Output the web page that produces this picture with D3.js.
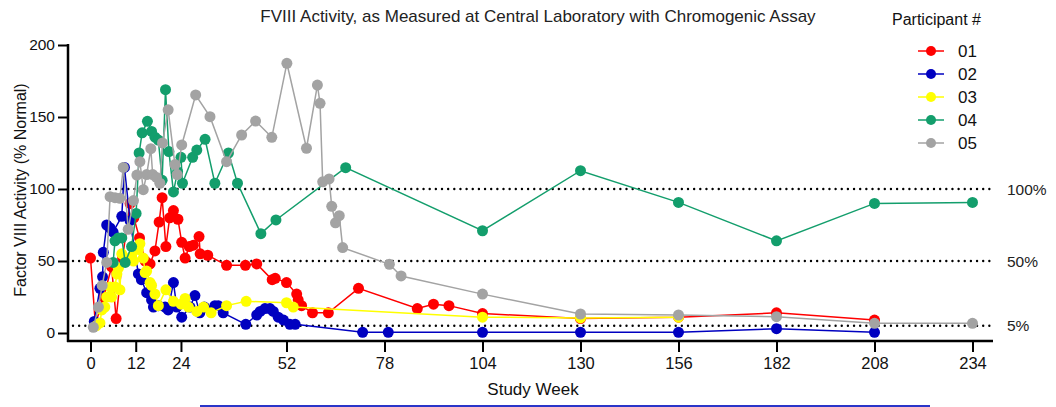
<!DOCTYPE html>
<html>
<head>
<meta charset="utf-8">
<script src="https://cdn.jsdelivr.net/npm/d3@7"></script>
<style>
  html, body { margin: 0; padding: 0; background: #fff; }
  svg { display: block; font-family: "Liberation Sans", Arial, sans-serif; }
</style>
</head>
<body>
<svg id="chart" width="1056" height="407"></svg>
<script>
// ---------- data ----------
const xTicks = [0, 12, 24, 52, 78, 104, 130, 156, 182, 208, 234];
const yTicks = [0, 50, 100, 150, 200];
const refLevels = [100, 50, 5];
const refLabels = ["100%", "50%", "5%"];
const participants = ["01", "02", "03", "04", "05"];
const colors = ["#ff0000", "#0000c0", "#ffff00", "#139e6c", "#a3a3a3"];

const p01Weeks = [0, 1.3, 3.5, 5.6, 6.8, 8.5, 10.5, 11.5, 13, 14.5, 15.8, 17.1, 18.2, 19, 20, 21, 22, 23.2, 24.2, 25.1, 26.2, 27.3, 28.8, 29.1, 31.1, 36.1, 41.1, 44.1, 48.2, 49, 52, 54.7, 55.1, 56, 58.9, 63.1, 71.1, 86.7, 91, 95.1, 104, 130, 156, 182, 208];
const p01Values = [52, 6, 25, 46, 10, 52, 90, 80, 66, 50, 48, 57, 77, 94, 60, 80, 85, 79, 63, 52, 60, 61, 67, 55, 54, 47, 47, 48, 37, 38, 35, 27, 23, 19, 14, 14, 31, 17, 20, 19, 13.5, 10, 11, 14, 9];

const p02Weeks = [1, 2.5, 3.2, 3.4, 4.3, 5.2, 6, 8.3, 9, 10.5, 12.7, 13.5, 14.9, 16.2, 16.7, 18, 19.8, 20.6, 22, 22.9, 24.2, 26.4, 27.7, 29, 30.2, 33, 33.9, 35.2, 41.2, 44.1, 45, 46.3, 47.6, 48.5, 49.8, 51.2, 52.9, 54.3, 72.2, 79, 104, 130, 156, 182, 208];
const p02Values = [8, 31, 39, 56, 75, 73, 70, 81, 115, 78, 41, 37, 28, 23, 18, 19, 18, 16, 35, 18, 11, 18, 26, 14, 18, 19, 19, 14, 6, 12.5, 15, 17, 17, 15, 11, 9, 6, 6, 0.5, 0.5, 0.5, 0.5, 0.5, 3, 0.5];

const p03Weeks = [1.5, 2.5, 3, 3.8, 4.3, 5.2, 5.6, 6.5, 7, 7.4, 7.8, 8.3, 10.9, 11.4, 12.7, 13.1, 14, 14.5, 14.9, 15.8, 16.2, 17.1, 18, 20, 22, 24, 25.1, 26, 28.2, 30, 32, 36.1, 41.3, 52, 53.8, 104, 130, 156];
const p03Values = [5, 7, 16, 18, 25, 32, 25, 32, 41, 45, 30, 55, 53, 50, 58, 62, 52, 42, 43, 35, 33, 27, 19, 30, 22, 20, 24, 18, 15, 18, 14, 19, 22, 21, 18, 11, 10.5, 11];

const p04Weeks = [6, 6.5, 7.4, 8.3, 9.2, 10.9, 12.1, 12.9, 13.7, 15.1, 16.2, 17.1, 18, 19, 19.9, 20.8, 22, 23.1, 24, 24.4, 27.1, 28.2, 30.4, 33, 36.6, 39, 45.2, 49.2, 67.7, 104, 130, 156, 182, 208, 234];
const p04Values = [49, 64, 66, 66, 49, 60, 83, 125, 139, 147, 140, 136, 134, 106, 169, 126, 98, 112, 122, 104, 122, 127, 134.5, 104, 125, 104, 69, 78.5, 114.8, 71, 112.7, 90.7, 64, 90, 90.7];

const p05Weeks = [0.75, 2.1, 3.1, 4.3, 5.2, 6.5, 7.8, 8.7, 10, 11.4, 12.3, 13.1, 14, 14.9, 16, 16.5, 17.5, 18.4, 19.1, 20.6, 22.4, 23, 24.2, 27.9, 31.7, 36.1, 40.1, 43.8, 48.1, 52.1, 57.3, 60.2, 60.9, 61.6, 63.3, 64, 65, 66, 66.9, 79.3, 82.4, 104, 130, 156, 182, 208, 234];
const p05Values = [4, 18, 33, 49, 94.7, 94, 93.5, 115, 72, 92, 109.7, 119, 99.5, 110, 128, 110, 108, 104, 132, 155, 117, 110, 130.6, 165.3, 150.2, 119, 137.5, 147.2, 135.9, 187.3, 128.3, 172.2, 159.5, 105, 107, 88, 76.5, 81.5, 59.3, 47.7, 39.6, 27, 13.2, 12.5, 11.3, 6.7, 6.7];

const seriesWeeks = [p01Weeks, p02Weeks, p03Weeks, p04Weeks, p05Weeks];
const seriesValues = [p01Values, p02Values, p03Values, p04Values, p05Values];

// ---------- chart ----------
const svg = d3.select("#chart");
const x = d3.scaleLinear().domain([0, 234]).range([90.5, 972.5]);
const y = d3.scaleLinear().domain([0, 200]).range([333, 45]);
const axisY = 341, axisX = 68;

// title
svg.append("text").attr("x", 538).attr("y", 22).attr("text-anchor", "middle")
  .attr("font-size", 17).attr("fill", "#222")
  .text("FVIII Activity, as Measured at Central Laboratory with Chromogenic Assay");

// reference dotted lines
refLevels.forEach((lv, i) => {
  svg.append("line").attr("x1", 73).attr("x2", 992)
    .attr("y1", y(lv)).attr("y2", y(lv))
    .attr("stroke", "#000").attr("stroke-width", 2.4)
    .attr("stroke-linecap", "round").attr("stroke-dasharray", "0 6.15");
  svg.append("text").attr("x", 1007).attr("y", y(lv)).attr("dy", "0.36em")
    .attr("font-size", 15.5).attr("fill", "#222").text(refLabels[i]);
});

// axes
const gx = svg.append("g").attr("transform", `translate(0,${axisY})`)
  .call(d3.axisBottom(x).tickValues(xTicks).tickSize(11).tickPadding(5).tickFormat(d3.format("d")));
gx.select(".domain").remove();
gx.selectAll(".tick line").attr("stroke", "#000").attr("stroke-width", 2);
gx.selectAll(".tick text").attr("font-size", 16.5).attr("fill", "#111").attr("font-family", "Liberation Sans, Arial, sans-serif");
svg.append("line").attr("x1", axisX - 1).attr("x2", 993).attr("y1", axisY).attr("y2", axisY)
  .attr("stroke", "#000").attr("stroke-width", 2.5);

const gy = svg.append("g").attr("transform", `translate(${axisX},0)`)
  .call(d3.axisLeft(y).tickValues(yTicks).tickSize(10).tickPadding(3));
gy.select(".domain").remove();
gy.selectAll(".tick line").attr("stroke", "#000").attr("stroke-width", 2);
gy.selectAll(".tick text").attr("font-size", 15.5).attr("fill", "#111").attr("font-family", "Liberation Sans, Arial, sans-serif");
svg.append("line").attr("x1", axisX).attr("x2", axisX).attr("y1", y(200) - 1).attr("y2", axisY + 1)
  .attr("stroke", "#000").attr("stroke-width", 2.5);

// axis titles
svg.append("text").attr("x", 533).attr("y", 395).attr("text-anchor", "middle")
  .attr("font-size", 17).attr("fill", "#111").text("Study Week");
svg.append("text").attr("transform", "translate(26,190) rotate(-90)").attr("text-anchor", "middle")
  .attr("font-size", 16).attr("fill", "#111").text("Factor VIII Activity (% Normal)");

// series
const line = d3.line().x(d => x(d[0])).y(d => y(d[1]));
participants.forEach((p, i) => {
  const pts = seriesWeeks[i].map((w, j) => [w, seriesValues[i][j]]);
  const g = svg.append("g");
  g.append("path").datum(pts).attr("d", line).attr("fill", "none")
    .attr("stroke", colors[i]).attr("stroke-width", 1.5);
  g.selectAll("circle").data(pts).join("circle")
    .attr("cx", d => x(d[0])).attr("cy", d => y(d[1])).attr("r", 5.5)
    .attr("fill", colors[i]);
});

// legend
svg.append("text").attr("x", 892).attr("y", 25).attr("font-size", 16).attr("fill", "#111").text("Participant #");
participants.forEach((p, i) => {
  const cy = 51 + i * 23;
  svg.append("line").attr("x1", 918).attr("x2", 944).attr("y1", cy).attr("y2", cy)
    .attr("stroke", colors[i]).attr("stroke-width", 1.5);
  svg.append("circle").attr("cx", 931).attr("cy", cy).attr("r", 5).attr("fill", colors[i]);
  svg.append("text").attr("x", 958).attr("y", cy).attr("dy", "0.36em")
    .attr("font-size", 17).attr("fill", "#111").text(p);
});

// clipped table border at bottom
svg.append("line").attr("x1", 200).attr("x2", 930).attr("y1", 406).attr("y2", 406)
  .attr("stroke", "#2a35c8").attr("stroke-width", 2);
</script>
</body>
</html>
